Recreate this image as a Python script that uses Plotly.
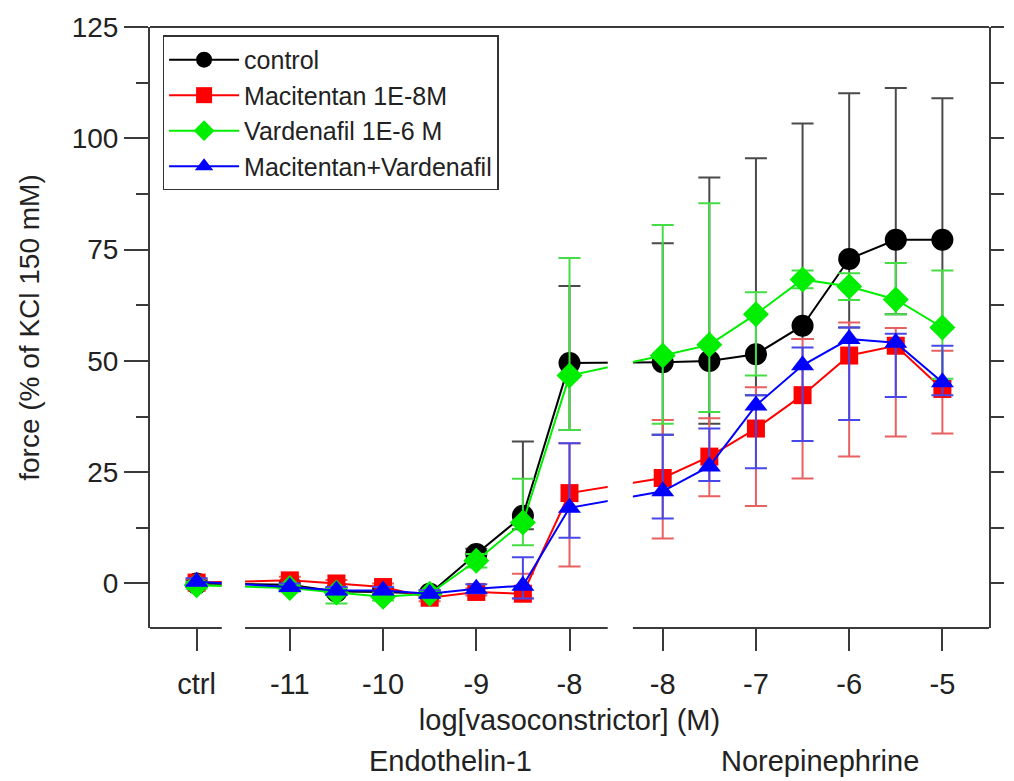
import plotly.graph_objects as go

# ---------------- data ----------------
# x positions: "ctrl", then Endothelin-1 log[M], then Norepinephrine log[M]
et_logc = [-11, -10.5, -10, -9.5, -9, -8.5, -8]
ne_logc = [-8, -7.5, -7, -6.5, -6, -5.5, -5]

tick_labels = ["ctrl", "-11", "-10", "-9", "-8", "-8", "-7", "-6", "-5"]

series_names = ["control", "Macitentan 1E-8M", "Vardenafil 1E-6 M", "Macitentan+Vardenafil"]

# values ordered: ctrl, ET (7), NE (7)
control_mean = [0.0, -0.3, -1.8, -1.9, -2.3, 6.6, 15.2, 49.5, 49.7, 50.0, 51.5, 57.9, 72.9, 77.2, 77.2]
control_up   = [0.8, 0.8, 0.8, 0.8, 0.8, 1.2, 16.7, 17.3, 26.7, 41.2, 44.0, 45.4, 37.2, 34.1, 31.8]
control_dn   = [0.8, 0.8, 0.8, 0.8, 0.8, 1.2, 3.0, 15.0, 16.3, 14.1, 9.2, 3.0, 15.4, 16.7, 20.0]

maci_mean = [0.2, 0.7, 0.0, -0.8, -3.2, -1.9, -2.3, 20.3, 23.7, 28.5, 34.8, 42.3, 51.2, 53.4, 43.7]
maci_up   = [0.8, 0.8, 0.8, 0.8, 0.8, 0.8, 4.5, 11.2, 13.0, 8.6, 9.3, 12.6, 7.4, 4.0, 8.6]
maci_dn   = [0.8, 0.8, 0.8, 0.8, 0.8, 0.8, 1.0, 16.5, 13.6, 8.9, 17.4, 18.7, 22.7, 20.4, 10.0]

varde_mean = [-0.4, -1.0, -2.0, -3.0, -2.3, 5.1, 13.7, 46.7, 51.2, 53.6, 60.5, 68.3, 66.7, 63.8, 57.5]
varde_up   = [0.8, 0.8, 1.0, 0.8, 0.8, 1.5, 9.8, 26.4, 29.3, 31.8, 4.9, 2.0, 3.0, 8.2, 12.8]
varde_dn   = [0.8, 0.8, 2.5, 0.8, 0.8, 1.5, 5.1, 12.2, 15.3, 15.1, 13.8, 2.0, 3.0, 3.3, 11.5]

combo_mean = [0.4, -0.8, -1.6, -1.6, -2.3, -1.2, -0.5, 17.0, 20.7, 26.3, 40.0, 49.0, 54.9, 54.1, 45.2]
combo_up   = [0.8, 0.8, 0.8, 0.8, 0.8, 1.0, 6.4, 14.5, 12.7, 8.5, 2.3, 4.0, 2.6, 2.0, 8.2]
combo_dn   = [0.8, 0.8, 0.8, 0.8, 0.8, 1.0, 2.9, 6.7, 6.1, 3.3, 14.1, 17.0, 18.2, 12.2, 2.9]

# --------------- broken-axis position mapping ---------------
# ctrl -> 0 ; ET log c -> c + 12 (so -11..-8 -> 1..4) ; NE log c -> c + 13 (-8..-5 -> 5..8)
xpos = [0] + [c + 12 for c in et_logc] + [c + 13 for c in ne_logc]
tickpos = [0, 1, 2, 3, 4, 5, 6, 7, 8]

FONT = "Liberation Sans, Arial, Helvetica, sans-serif"

styles = [
    dict(color="#000000", err="#4a4a4a", symbol="circle", size=22),
    dict(color="#ff0000", err="#e86060", symbol="square", size=18),
    dict(color="#00ee00", err="#44dd44", symbol="diamond", size=20),
    dict(color="#0000ff", err="#4848e8", symbol="triangle-up", size=20),
]
data = [
    (control_mean, control_up, control_dn),
    (maci_mean, maci_up, maci_dn),
    (varde_mean, varde_up, varde_dn),
    (combo_mean, combo_up, combo_dn),
]

fig = go.Figure()
for name, st, (m, up, dn) in zip(series_names, styles, data):
    fig.add_trace(go.Scatter(
        x=xpos, y=m, name=name, mode="lines+markers",
        line=dict(color=st["color"], width=2),
        marker=dict(symbol=st["symbol"], size=st["size"], color=st["color"],
                    line=dict(width=0)),
        error_y=dict(type="data", symmetric=False, array=up, arrayminus=dn,
                     color=st["err"], thickness=2, width=11),
        cliponaxis=False,
    ))

# invisible trace to carry the right-hand axis
fig.add_trace(go.Scatter(x=[None], y=[None], yaxis="y2", showlegend=False,
                         hoverinfo="skip"))

XMIN, XMAX = -0.5, 8.5
gap1 = (0.27, 0.52)
gap2 = (4.41, 4.68)

shapes = []
# white masks over the axis breaks (lines continue but are hidden there)
for g in (gap1, gap2):
    shapes.append(dict(type="rect", xref="x", yref="paper", x0=g[0], x1=g[1],
                       y0=-0.002, y1=0.996, fillcolor="white", line=dict(width=0),
                       layer="above"))
# bottom axis line with breaks
for a, b in ((XMIN, gap1[0]), (gap1[1], gap2[0]), (gap2[1], XMAX)):
    shapes.append(dict(type="line", xref="x", yref="paper", x0=a, x1=b, y0=0, y1=0,
                       line=dict(color="#3a3a3a", width=2), layer="above"))
# top frame line
shapes.append(dict(type="line", xref="paper", yref="paper", x0=0, x1=1, y0=1, y1=1,
                   line=dict(color="#3a3a3a", width=2), layer="above"))

fig.update_layout(
    width=1014, height=781,
    margin=dict(l=150, r=19, t=22, b=153),
    paper_bgcolor="white", plot_bgcolor="white",
    font=dict(family=FONT, size=28, color="#222222"),
    showlegend=True,
    legend=dict(x=0.015, y=0.986, xanchor="left", yanchor="top",
                bgcolor="white", bordercolor="#333333", borderwidth=1.5,
                font=dict(size=25, color="#222222"), itemwidth=70,
                tracegroupgap=0),
    xaxis=dict(range=[XMIN, XMAX], tickmode="array", tickvals=tickpos,
               ticktext=tick_labels, ticks="outside", ticklen=22, tickwidth=2,
               tickcolor="#3a3a3a", showline=False, showgrid=False, zeroline=False,
               tickfont=dict(size=29), ticklabelstandoff=8,
               title=dict(text="log[vasoconstrictor] (M)", font=dict(size=29),
                          standoff=10)),
    yaxis=dict(range=[-10, 125], tickmode="linear", tick0=0, dtick=25,
               ticks="outside", ticklen=24, tickwidth=2, tickcolor="#3a3a3a",
               showline=True, linecolor="#3a3a3a", linewidth=2,
               showgrid=False, zeroline=False, tickfont=dict(size=28),
               minor=dict(ticks="outside", ticklen=12, tickwidth=2,
                          tickcolor="#3a3a3a", dtick=12.5, tick0=0, showgrid=False),
               title=dict(text="force (% of KCl 150 mM)", font=dict(size=28),
                          standoff=24)),
    yaxis2=dict(range=[-10, 125], overlaying="y", side="right", anchor="x",
                tickmode="linear", tick0=0, dtick=25, ticks="outside", ticklen=13,
                tickwidth=2, tickcolor="#3a3a3a", showticklabels=False,
                showline=True, linecolor="#3a3a3a", linewidth=2,
                showgrid=False, zeroline=False,
                minor=dict(ticks="outside", ticklen=13, tickwidth=2,
                           tickcolor="#3a3a3a", dtick=12.5, tick0=0, showgrid=False)),
    shapes=shapes,
    annotations=[
        dict(text="Endothelin-1", x=2.72, xref="x", y=-0.222, yref="paper",
             showarrow=False, font=dict(size=29, color="#222222"),
             xanchor="center", yanchor="middle"),
        dict(text="Norepinephrine", x=6.69, xref="x", y=-0.222, yref="paper",
             showarrow=False, font=dict(size=29, color="#222222"),
             xanchor="center", yanchor="middle"),
    ],
)

fig.write_html("out.html")
